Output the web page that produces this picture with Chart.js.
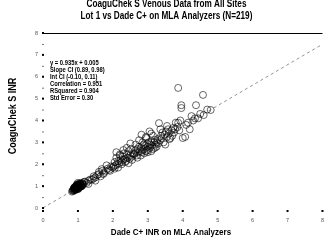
<!DOCTYPE html>
<html>
<head>
<meta charset="utf-8">
<script src="https://cdn.jsdelivr.net/npm/chart.js@4.4.0/dist/chart.umd.min.js"></script>
<style>
html, body { margin: 0; padding: 0; background: #fff; }
</style>
</head>
<body>
<canvas id="myChart" width="333" height="243"></canvas>
<script>
// Dade C+ INR (x) vs CoaguChek S INR (y)
var dadeInr = [
	0.9,0.95,1.0,1.0,1.05,0.85,0.9,0.95,1.0,1.1,
	0.92,0.98,1.02,1.08,0.88,0.94,1.0,1.04,1.12,0.96,
	0.9,1.0,1.06,0.86,0.93,0.99,1.03,1.1,0.97,1.01,
	0.91,0.95,1.05,1.15,0.89,0.97,1.02,1.07,0.94,1.0,
	0.83,0.92,0.98,1.04,1.09,0.96,1.01,0.93,1.13,1.0,
	0.87,0.95,1.03,1.06,0.9,0.99,1.11,0.94,1.0,1.05,
	0.92,0.97,1.08,1.18,0.96,1.02,0.88,1.0,1.04,1.14,
	1.2,1.25,1.3,1.35,1.4,1.45,1.5,1.55,1.6,1.65,1.7,1.75,1.8,1.85,1.9,1.95,2.0,
	1.3,1.45,1.6,1.72,1.82,1.92,1.5,1.68,
	2.02,2.05,2.08,2.1,2.12,2.15,2.18,2.2,2.22,2.25,2.28,2.3,2.32,2.35,2.38,2.4,
	2.42,2.45,2.48,2.5,2.52,2.55,2.58,2.6,
	2.05,2.15,2.25,2.35,2.45,2.55,2.1,2.3,2.4,2.2,2.5,
	2.62,2.65,2.68,2.7,2.72,2.75,2.78,2.8,2.82,2.85,2.88,2.9,2.92,2.95,2.98,3.0,
	3.02,3.05,3.08,3.1,3.12,3.15,3.18,3.2,3.22,3.25,3.28,3.3,
	2.7,2.8,2.9,3.0,3.1,3.2,2.75,2.85,2.95,3.05,3.15,2.83,2.65,3.0,3.25,2.95,3.1,
	3.32,3.35,3.38,3.4,3.42,3.45,3.48,3.5,3.52,3.55,3.58,3.6,3.62,3.65,3.68,3.7,
	3.73,3.75,3.78,3.8,3.85,3.87,3.9,3.93,3.96,3.36,3.55,3.87,
	4.0,4.07,4.1,4.15,4.2,4.25,4.3,4.35,4.38,4.44,4.5,4.58,4.6,4.7,4.8,3.96
];
var coaguInr = [
	0.85,0.9,0.95,1.05,1.0,0.8,0.95,1.0,0.9,1.1,
	0.88,0.92,1.0,1.05,0.82,0.86,1.0,0.95,1.15,0.98,
	0.9,1.02,1.1,0.78,0.84,0.93,0.97,1.02,1.06,0.88,
	0.8,0.95,1.0,1.1,0.9,0.96,1.08,1.12,0.86,0.92,
	0.75,0.92,0.88,1.05,1.0,1.0,0.94,0.98,1.08,1.15,
	0.84,0.9,1.02,0.96,0.88,1.04,1.0,0.9,0.96,1.12,
	0.95,1.08,0.98,1.2,0.92,1.0,0.9,0.86,1.06,1.05,
	1.2,1.15,1.25,1.3,1.3,1.45,1.4,1.5,1.55,1.45,1.7,1.6,1.7,1.8,1.75,1.9,1.85,
	1.1,1.35,1.65,1.55,1.95,1.7,1.25,1.78,
	1.9,2.1,1.95,2.3,2.0,2.15,2.05,2.4,2.2,2.1,2.35,2.2,2.5,2.25,2.15,2.45,
	2.3,2.6,2.25,2.4,2.7,2.35,2.5,2.45,
	1.8,1.85,2.0,2.1,2.05,2.2,2.55,2.65,2.75,2.45,2.95,
	2.5,2.65,2.4,2.7,2.55,2.8,2.6,2.75,3.35,2.65,2.9,2.7,2.85,2.6,2.95,2.8,
	3.0,2.75,2.9,3.05,2.85,2.7,3.0,3.1,2.9,3.0,3.15,2.95,
	2.3,2.4,2.5,2.55,2.6,2.75,3.1,3.0,3.2,3.5,3.3,2.55,2.9,2.65,2.8,3.25,3.4,
	3.88,3.1,3.3,3.2,3.45,3.0,3.35,2.9,3.5,3.25,3.6,3.4,3.15,3.2,3.55,3.3,
	3.66,3.45,3.6,3.9,3.7,3.9,3.55,4.0,4.57,3.6,3.75,5.49,
	3.2,3.25,3.8,3.9,3.6,4.2,4.0,4.1,4.7,4.1,4.3,5.17,4.25,4.5,4.48,4.7
];

// regression line end points (y = 0.935x + 0.005)
var fitX = [0, 8];
var fitY = [0.005, 7.485];

var titleLines = ['CoaguChek S Venous Data from All Sites', 'Lot 1 vs Dade C+ on MLA Analyzers (N=219)'];
var xTitle = 'Dade C+ INR on MLA Analyzers';
var yTitle = 'CoaguChek S INR';
var statsLines = [
	'y = 0.935x + 0.005',
	'Slope CI (0.89, 0.98)',
	'Int CI (-0.10, 0.11)',
	'Correlation = 0.951',
	'RSquared = 0.904',
	'Std Error = 0.30'
];
var tickValues = [0, 1, 2, 3, 4, 5, 6, 7, 8];

var FONT = "'Liberation Sans', Arial, sans-serif";

var points = dadeInr.map(function(x, i) { return { x: x, y: coaguInr[i] }; });
var fitLine = fitX.map(function(x, i) { return { x: x, y: fitY[i] }; });

// bold text squeezed to look like a narrow face
function narrowText(c, s, x, y, size, align, rot) {
	c.save();
	c.translate(x, y);
	if (rot) c.rotate(rot);
	c.scale(0.82, 1);
	c.font = 'bold ' + size + 'px ' + FONT;
	c.textAlign = align;
	c.textBaseline = 'middle';
	c.fillStyle = '#000';
	c.fillText(s, 0, 0);
	c.restore();
}

// tick dots, top rule, titles and the stats box
var decorations = {
	id: 'decorations',
	afterDraw: function(chart) {
		var c = chart.ctx;
		var xs = chart.scales.x, ys = chart.scales.y;
		var area = chart.chartArea;
		c.save();
		c.fillStyle = '#000';
		tickValues.forEach(function(v) {
			c.fillRect(area.left - 1, ys.getPixelForValue(v) - 1, 2, 2);
			c.fillRect(xs.getPixelForValue(v) - 1, area.bottom + 2, 2, 2);
			if (v < 8) {
				c.fillStyle = '#777';
				c.fillRect(area.left - 1, ys.getPixelForValue(v + 0.5), 2, 1);
				c.fillStyle = '#000';
			}
		});
		c.strokeStyle = '#000';
		c.lineWidth = 1;
		c.beginPath();
		c.moveTo(area.left, Math.round(ys.getPixelForValue(8)) + 0.5);
		c.lineTo(area.right, Math.round(ys.getPixelForValue(8)) + 0.5);
		c.stroke();
		c.restore();

		var w = chart.width;
		narrowText(c, titleLines[0], w / 2, 4.5, 10, 'center');
		narrowText(c, titleLines[1], w / 2, 16, 10, 'center');
		narrowText(c, xTitle, 171, 232, 9.8, 'center');
		narrowText(c, yTitle, 13, 116, 11, 'center', -Math.PI / 2);

		var tx = xs.getPixelForValue(0.2);
		statsLines.forEach(function(s, i) {
			narrowText(c, s, tx, 63 + i * 7, 7.1, 'left');
		});
	}
};

var ctx = document.getElementById('myChart');
var myChart = new Chart(ctx, {
	data: {
		datasets: [{
			type: 'scatter',
			data: points,
			pointRadius: 3.5,
			pointBorderWidth: 0.7,
			pointBackgroundColor: 'rgba(0,0,0,0)',
			borderColor: 'rgba(0,0,0,0.85)'
		},
		{
			type: 'line',
			data: fitLine,
			borderColor: '#777',
			borderWidth: 0.8,
			borderDash: [3, 3],
			pointRadius: 0
		}]
	},
	options: {
		responsive: false,
		animation: false,
		devicePixelRatio: 1,
		layout: { padding: { top: 33, right: 7, left: 0, bottom: 0 } },
		plugins: {
			legend: { display: false },
			tooltip: { enabled: false },
			title: { display: false }
		},
		scales: {
			x: {
				type: 'linear',
				min: 0,
				max: 8,
				grid: { display: false, drawTicks: false },
				border: { display: false },
				ticks: { stepSize: 1, padding: 9, color: '#555', font: { family: FONT, size: 5.5 } },
				afterFit: function(scale) { scale.height = 35; }
			},
			y: {
				type: 'linear',
				min: 0,
				max: 8,
				grid: { display: false, drawTicks: false },
				border: { display: false },
				ticks: { stepSize: 1, padding: 5, color: '#555', font: { family: FONT, size: 5.5 } },
				afterFit: function(scale) { scale.width = 43; }
			}
		}
	},
	plugins: [decorations]
});
</script>
</body>
</html>
